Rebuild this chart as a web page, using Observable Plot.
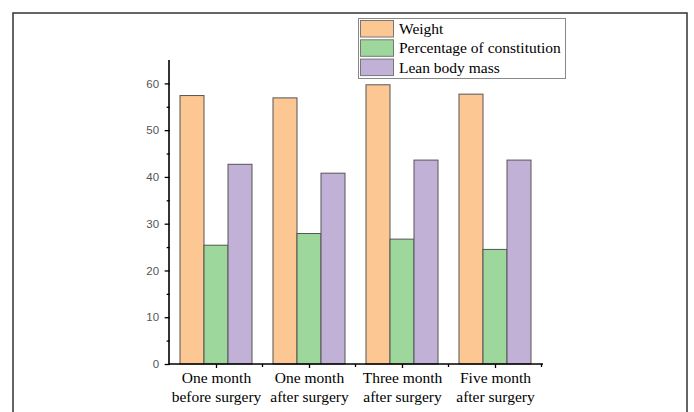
<!DOCTYPE html>
<html>
<head>
<meta charset="utf-8">
<script src="https://cdn.jsdelivr.net/npm/d3@7"></script>
<script src="https://cdn.jsdelivr.net/npm/@observablehq/plot@0.6"></script>
<style>
  html, body { margin: 0; padding: 0; background: #fff; overflow: hidden; }
  #chart svg { display: block; }
</style>
</head>
<body>
<div id="chart"></div>
<script>
const groups = ["One month\nbefore surgery", "One month\nafter surgery", "Three month\nafter surgery", "Five month\nafter surgery"];
const series = ["Weight", "Percentage of constitution", "Lean body mass"];
const weight = [57.4, 56.9, 59.7, 57.7];
const constitution = [25.4, 27.9, 26.7, 24.5];
const leanMass = [42.7, 40.8, 43.6, 43.6];
const colors = ["#fdc794", "#9ed79b", "#c2b1d7"];
const yMajor = [0, 10, 20, 30, 40, 50, 60];
const yMinor = [5, 15, 25, 35, 45, 55];

const valuesBySeries = [weight, constitution, leanMass];
const data = [];
groups.forEach((g, i) => series.forEach((s, j) => data.push({group: g, series: s, value: valuesBySeries[j][i]})));

const serif = "'Times New Roman', 'Liberation Serif', serif";
const sans = "Arial, 'Liberation Sans', sans-serif";

// outer band padding, in pixels, between the y axis line and the first group
const outerPad = 9.35;

const plot = Plot.plot({
  width: 694,
  height: 412,
  marginLeft: 169,
  marginRight: 151,
  marginTop: 60,
  marginBottom: 48,
  style: {background: "#fff", overflow: "visible"},
  fx: {domain: groups, paddingInner: 0.2, paddingOuter: 0.1, label: null, axis: null},
  x: {domain: series, padding: 0, axis: null},
  y: {domain: [0, 65], label: null},
  color: {domain: series, range: colors},
  marks: [
    Plot.barY(data, {fx: "group", x: "series", y: "value", fill: "series", stroke: "#555", strokeWidth: 1, inset: 0}),
    Plot.axisY({ticks: yMajor, tickSize: 5, tickPadding: 6, dx: -outerPad, fontSize: 11.5, fontFamily: sans, fill: "#555", stroke: "#000", strokeWidth: 1.3, label: null}),
    Plot.axisY({ticks: yMinor, tickSize: 3, dx: -outerPad, text: null, stroke: "#000", strokeWidth: 1.3, label: null}),
    Plot.axisFx({anchor: "bottom", tickSize: 4, tickPadding: 0, fontSize: 15.5, fontFamily: serif, fill: "#000", lineHeight: 1.28, stroke: "#000", strokeWidth: 1.3, label: null})
  ]
});

document.getElementById("chart").appendChild(plot);
const svg = d3.select(plot);
const fx = plot.scale("fx");
const y = plot.scale("y");
const x0 = 169, x1 = 694 - 151;
const y0 = y.apply(0), yTop = y.apply(65);

// outer frame
svg.append("rect").attr("x", 13).attr("y", 13).attr("width", 674).attr("height", 440)
  .attr("fill", "none").attr("stroke", "#333").attr("stroke-width", 1.5);

// axis lines
svg.append("line").attr("x1", x0).attr("x2", x0).attr("y1", yTop).attr("y2", y0 + 0.6)
  .attr("stroke", "#000").attr("stroke-width", 1.6);
svg.append("line").attr("x1", x0).attr("x2", x1).attr("y1", y0).attr("y2", y0)
  .attr("stroke", "#000").attr("stroke-width", 1.6);

// minor x ticks between groups
const step = fx.step !== undefined ? fx.step : (x1 - x0) / groups.length;
groups.forEach(g => {
  const xm = fx.apply(g) + fx.bandwidth + (step - fx.bandwidth) / 2;
  svg.append("line").attr("x1", xm).attr("x2", xm).attr("y1", y0).attr("y2", y0 + 3)
    .attr("stroke", "#000").attr("stroke-width", 1.3);
});

// legend
const lg = svg.append("g").attr("text-anchor", "start");
lg.append("rect").attr("x", 358.5).attr("y", 18.5).attr("width", 207).attr("height", 60)
  .attr("fill", "#fff").attr("stroke", "#888").attr("stroke-width", 1);
series.forEach((s, i) => {
  const ry = 20 + i * 19.3;
  lg.append("rect").attr("x", 360.5).attr("y", ry + 0.5).attr("width", 33).attr("height", 16.5)
    .attr("fill", colors[i]).attr("stroke", "#777").attr("stroke-width", 1);
  lg.append("text").attr("x", 399).attr("y", ry + 14).text(s)
    .attr("text-anchor", "start")
    .attr("font-family", serif).attr("font-size", 15.5).attr("fill", "#000");
});
</script>
</body>
</html>
